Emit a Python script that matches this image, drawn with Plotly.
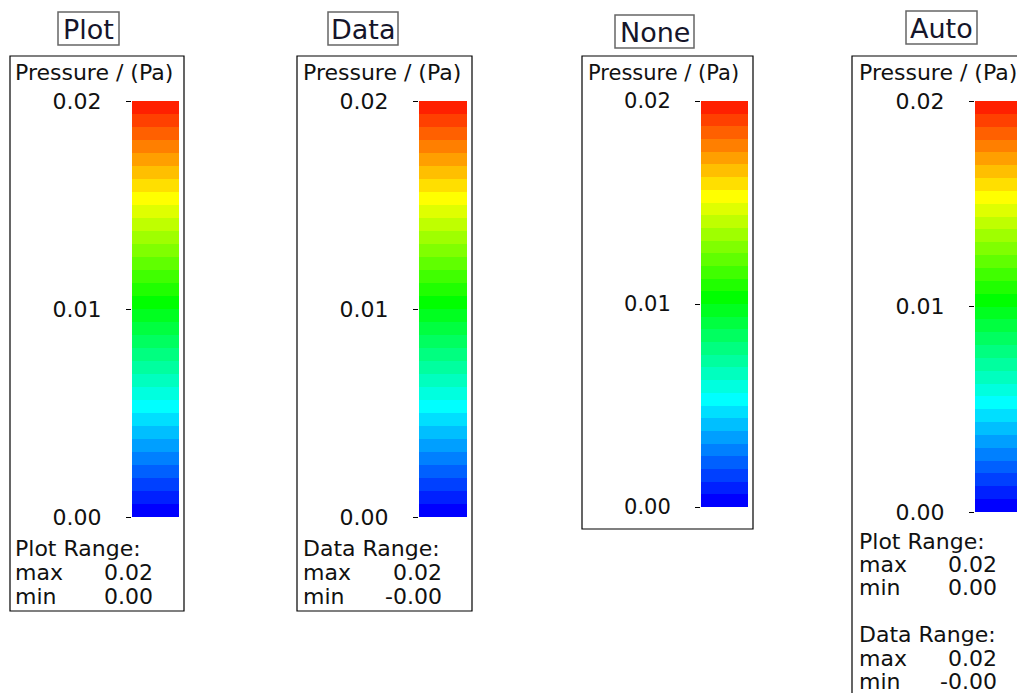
import numpy as np
import plotly.graph_objects as go

# ---------------- data ----------------
panel_titles = ["Plot", "Data", "None", "Auto"]
header_text = "Pressure / (Pa)"
scale_min = 0.0
scale_max = 0.02
band_count = 32
tick_values = [0.0, 0.01, 0.02]
tick_labels = ["0.00", "0.01", "0.02"]
plot_range_max = "0.02"
plot_range_min = "0.00"
data_range_max = "0.02"
data_range_min = "-0.00"

# ---------------- layout helpers ----------------
W, H = 1017, 693
FONT = "DejaVu Sans"
TXT = "#111111"


def px(x):
    return x / W


def py(y):
    return 1 - y / H


band_edges = np.linspace(scale_min, scale_max, band_count + 1)
band_values = band_edges[:-1]

colorscale = [
    [0.0, "rgb(0,0,255)"],
    [0.25, "rgb(0,255,255)"],
    [0.5, "rgb(0,255,0)"],
    [0.75, "rgb(255,255,0)"],
    [1.0, "rgb(255,0,0)"],
]

# geometry per panel (pixels)
panels = [
    dict(box=(10, 56, 184, 611), tbox=(58, 12, 119, 45), bar=(132, 101, 179, 517),
         left=15, right=153, fs=22),
    dict(box=(297, 56, 472, 611), tbox=(328, 12, 398, 45), bar=(419, 101, 467, 517),
         left=303, right=442, fs=22),
    dict(box=(582, 56, 753, 529), tbox=(615, 15, 694, 48), bar=(701, 101, 748, 507),
         left=588, right=None, fs=21),
    dict(box=(852, 56, 1040, 740), tbox=(906, 11, 977, 44), bar=(975, 101, 1017, 512),
         left=859, right=997, fs=22),
]

fig = go.Figure()
shapes = []
annotations = []
layout_axes = {}

for i, (title, p) in enumerate(zip(panel_titles, panels)):
    n = i + 1
    xa = "x" if n == 1 else f"x{n}"
    ya = "y" if n == 1 else f"y{n}"
    fig.add_trace(go.Heatmap(
        z=[[v] for v in band_values],
        x=[0, 1],
        y=band_edges,
        zmin=scale_min, zmax=scale_max,
        colorscale=colorscale,
        showscale=False,
        hoverinfo="skip",
        xaxis=xa, yaxis=ya,
    ))
    bx0, by0, bx1, by1 = p["bar"]
    xkey = "xaxis" if n == 1 else f"xaxis{n}"
    ykey = "yaxis" if n == 1 else f"yaxis{n}"
    layout_axes[xkey] = dict(domain=[px(bx0), px(bx1)], range=[0, 1], visible=False,
                             anchor=ya, fixedrange=True)
    layout_axes[ykey] = dict(domain=[py(by1), py(by0)], range=[scale_min, scale_max],
                             anchor=xa, tickvals=tick_values, ticktext=tick_labels,
                             ticks="outside", ticklen=5, tickcolor="#000", tickwidth=1,
                             ticklabelstandoff=20, showgrid=False, zeroline=False,
                             showline=False,
                             tickfont=dict(family=FONT, size=p["fs"], color=TXT),
                             fixedrange=True, automargin=False)

    # panel box
    x0, y0, x1, y1 = p["box"]
    shapes.append(dict(type="rect", xref="paper", yref="paper",
                       x0=px(x0), x1=px(x1), y0=py(y1), y1=py(y0),
                       line=dict(color="#000", width=1.2), fillcolor="rgba(0,0,0,0)"))
    # title box
    tx0, ty0, tx1, ty1 = p["tbox"]
    shapes.append(dict(type="rect", xref="paper", yref="paper",
                       x0=px(tx0), x1=px(tx1), y0=py(ty1), y1=py(ty0),
                       line=dict(color="#666", width=1.5), fillcolor="rgba(0,0,0,0)"))
    annotations.append(dict(text=title, xref="paper", yref="paper",
                            x=px((tx0 + tx1) / 2), y=py((ty0 + ty1) / 2 + 1),
                            xanchor="center", yanchor="middle", showarrow=False,
                            font=dict(family=FONT, size=27, color="#15152a")))
    # header
    annotations.append(dict(text=header_text, xref="paper", yref="paper",
                            x=px(p["left"] - 2), y=py(73), xanchor="left", yanchor="middle",
                            showarrow=False, font=dict(family=FONT, size=p["fs"], color=TXT)))

    # range blocks
    rows = []
    if title == "Plot":
        rows = [("Plot Range:", None), ("max", plot_range_max), ("min", plot_range_min)]
        y_start, step = 548, 24
    elif title == "Data":
        rows = [("Data Range:", None), ("max", data_range_max), ("min", data_range_min)]
        y_start, step = 548, 24
    elif title == "Auto":
        rows = [("Plot Range:", None), ("max", plot_range_max), ("min", plot_range_min),
                ("", None),
                ("Data Range:", None), ("max", data_range_max), ("min", data_range_min)]
        y_start, step = 541, 23.4
    for k, (lab, val) in enumerate(rows):
        yy = y_start + k * step
        if lab:
            annotations.append(dict(text=lab, xref="paper", yref="paper",
                                    x=px(p["left"] - 2), y=py(yy), xanchor="left",
                                    yanchor="middle", showarrow=False,
                                    font=dict(family=FONT, size=p["fs"], color=TXT)))
        if val is not None:
            annotations.append(dict(text=val, xref="paper", yref="paper",
                                    x=px(p["right"] + 2), y=py(yy), xanchor="right",
                                    yanchor="middle", showarrow=False,
                                    font=dict(family=FONT, size=p["fs"], color=TXT)))

fig.update_layout(
    width=W, height=H, autosize=False,
    margin=dict(l=0, r=0, t=0, b=0, pad=0, autoexpand=False),
    paper_bgcolor="white", plot_bgcolor="white",
    shapes=shapes, annotations=annotations,
    showlegend=False,
    **layout_axes,
)

fig.write_html("out.html", config={"displayModeBar": False, "responsive": False},
               post_script="document.body.style.margin='0';document.body.style.overflow='hidden';")
